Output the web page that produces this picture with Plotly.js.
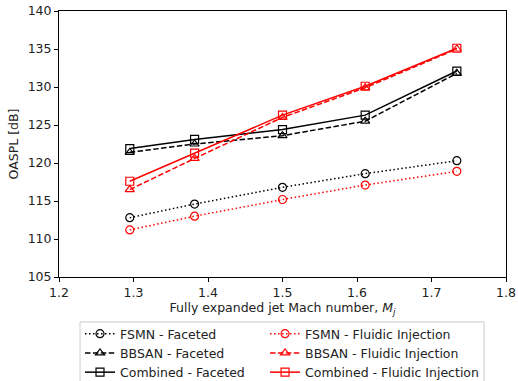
<!DOCTYPE html>
<html><head><meta charset="utf-8">
<script src="https://cdn.plot.ly/plotly-3.0.1.min.js"></script>
<style>html,body{margin:0;padding:0;background:#fff;overflow:hidden}</style>
</head><body><div id="plot" style="width:518px;height:400px"></div>
<script>
const mach = [1.295, 1.382, 1.5, 1.611, 1.734];
const fsmnFaceted = [112.8, 114.6, 116.8, 118.6, 120.3];
const fsmnFluidic = [111.2, 113.0, 115.2, 117.1, 118.9];
const bbsanFaceted = [121.4, 122.5, 123.6, 125.5, 131.8];
const bbsanFluidic = [116.5, 120.6, 126.0, 129.9, 135.0];
const combinedFaceted = [121.9, 123.1, 124.4, 126.3, 132.1];
const combinedFluidic = [117.6, 121.3, 126.3, 130.1, 135.1];

function tr(name, y, color, dash, symbol, leg) {
  return {x: mach, y: y, name: name, mode: 'lines+markers', type: 'scatter', legend: leg,
    line: {color: color, width: 1.5, dash: dash},
    marker: {symbol: symbol, size: 8, color: color, line: {color: color, width: 1.2}}};
}
const DOT = '1.5px,2.5px', DASH = '5.5px,2.4px';
const data = [
  tr('FSMN - Faceted', fsmnFaceted, 'black', DOT, 'circle-open', 'legend'),
  tr('BBSAN - Faceted', bbsanFaceted, 'black', DASH, 'triangle-up-open', 'legend'),
  tr('Combined - Faceted', combinedFaceted, 'black', 'solid', 'square-open', 'legend'),
  tr('FSMN - Fluidic Injection', fsmnFluidic, 'red', DOT, 'circle-open', 'legend2'),
  tr('BBSAN - Fluidic Injection', bbsanFluidic, 'red', DASH, 'triangle-up-open', 'legend2'),
  tr('Combined - Fluidic Injection', combinedFluidic, 'red', 'solid', 'square-open', 'legend2')
];
const axisCommon = {showline: true, linecolor: 'black', linewidth: 1, mirror: true,
  ticks: 'outside', ticklen: 4, tickcolor: 'black', showgrid: false, zeroline: false,
  tickfont: {size: 12.5, color: '#222'}};
const legCommon = {orientation: 'v', yanchor: 'top', xanchor: 'left', y: -0.158,
  bgcolor: 'rgba(0,0,0,0)', borderwidth: 0, tracegroupgap: 0, traceorder: 'normal',
  font: {size: 12.5, color: '#222'}};
const layout = {
  width: 518, height: 400,
  margin: {l: 59, r: 12, t: 11, b: 123},
  paper_bgcolor: 'white', plot_bgcolor: 'white',
  font: {family: 'DejaVu Sans', size: 12.5, color: '#222'},
  xaxis: Object.assign({}, axisCommon, {range: [1.2, 1.8], dtick: 0.1, tickformat: '.1f',
    title: {text: 'Fully expanded jet Mach number, <i>M</i><sub><i>j</i></sub>', font: {size: 12.5}, standoff: 3}}),
  yaxis: Object.assign({}, axisCommon, {range: [105, 140], dtick: 5,
    title: {text: 'OASPL [dB]', font: {size: 12.5}, standoff: 6}}),
  showlegend: true,
  legend: Object.assign({}, legCommon, {x: 0.047}),
  legend2: Object.assign({}, legCommon, {x: 0.461}),
  shapes: [{type: 'rect', xref: 'paper', yref: 'paper', x0: 0.047, x1: 0.951, y0: -0.169, y1: -0.43,
    line: {color: '#cccccc', width: 1}, fillcolor: 'rgba(0,0,0,0)', layer: 'below'}]
};
Plotly.newPlot('plot', data, layout, {staticPlot: true});
</script></body></html>
